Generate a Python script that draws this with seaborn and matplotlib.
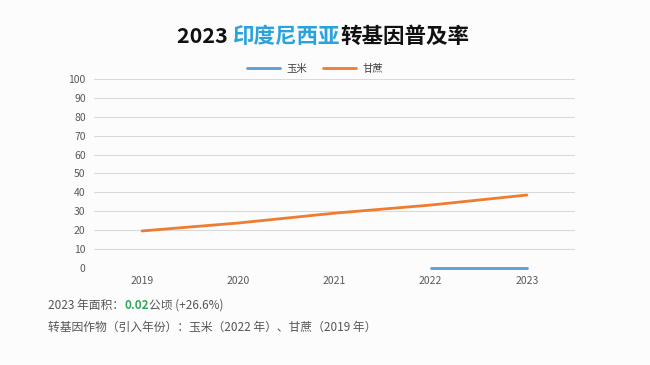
import numpy as np
import pandas as pd
import matplotlib
matplotlib.use('Agg')
import matplotlib.pyplot as plt
import seaborn as sns

years = ['2019', '2020', '2021', '2022', '2023']
maize = [np.nan, np.nan, np.nan, 0, 0]
sugarcane = [19.6, 23.8, 29.0, 33.3, 38.6]
series_names = ['玉米', '甘蔗']
colors = ['#5b9bd5', '#ed7d31']

sns.set_style('white')
plt.rcParams['font.family'] = ['Noto Sans CJK SC', 'DejaVu Sans']

df = pd.DataFrame({'年份': years * 2,
                   '作物': [series_names[0]] * 5 + [series_names[1]] * 5,
                   '普及率': maize + sugarcane})

bg = '#fcfcfc'
fig = plt.figure(figsize=(6.5, 3.65), dpi=100, facecolor=bg)
ax = fig.add_axes([0.1446, 0.2658, 0.74, 0.5178], facecolor=bg)

sns.lineplot(data=df, x='年份', y='普及率', hue='作物', palette=colors,
             linewidth=2, ax=ax, legend=True)
for ln in ax.lines:
    ln.set_clip_on(False)
    ln.set_zorder(3)

ax.set_ylim(0, 100)
ax.set_xlim(-0.5, 4.5)
ax.set_yticks(range(0, 101, 10))
ax.grid(axis='y', color='#d9d9d9', linewidth=0.8)
ax.set_axisbelow(True)
for s in ax.spines.values():
    s.set_visible(False)
ax.tick_params(axis='both', length=0, labelsize=7.5, labelcolor='#595959', pad=6)
ax.set_xlabel('')
ax.set_ylabel('')

ax.legend(loc='center', bbox_to_anchor=(0.46, 1.053), ncol=2, frameon=False,
          fontsize=7.5, handlelength=3.2, columnspacing=1.5, handletextpad=0.6,
          labelcolor='#404040')

# 标题，分段着色
t1 = fig.text(0.272, 0.9, '2023 ', fontsize=15.5, fontweight='bold', color='#111111', va='center')
t2 = ax.annotate('印度尼西亚', xy=(1, 0), xycoords=t1, va='bottom', fontsize=15.5,
                 fontweight='bold', color='#2aa3dd', annotation_clip=False)
t3 = ax.annotate('转基因普及率', xy=(1, 0), xycoords=t2, va='bottom', fontsize=15.5,
                 fontweight='bold', color='#111111', annotation_clip=False)

# 底部说明
b1 = fig.text(0.074, 0.163, '2023 年面积：', fontsize=8.5, color='#555555', va='center')
b2 = ax.annotate('0.02', xy=(1, 0), xycoords=b1, va='bottom', fontsize=8.5,
                 fontweight='bold', color='#2ea85a', annotation_clip=False)
b3 = ax.annotate('公顷 (+26.6%)', xy=(1, 0), xycoords=b2, va='bottom', fontsize=8.5,
                 color='#555555', annotation_clip=False)
fig.text(0.074, 0.102, '转基因作物（引入年份）：玉米（2022 年）、甘蔗（2019 年）',
         fontsize=8.5, color='#555555', va='center')

fig.savefig('out.png', dpi=100, facecolor=bg)
